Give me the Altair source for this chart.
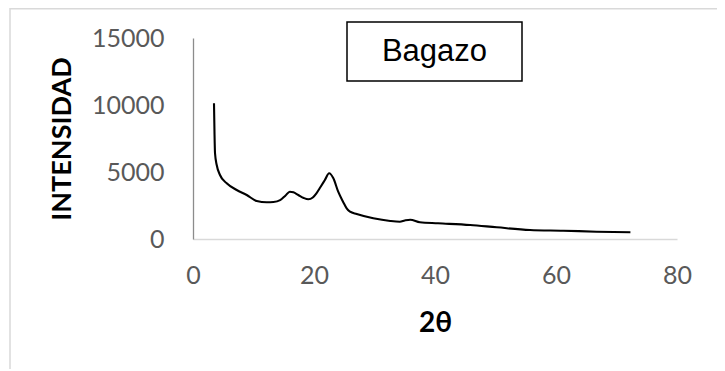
import altair as alt
import pandas as pd

two_theta = [3.47, 3.55, 3.64, 3.92, 4.46, 5.57, 7.22, 8.88, 10.53, 12.18, 13.3, 14.4,
             15.3, 16.0, 16.6, 17.4, 18.3, 19.06, 19.8, 20.4, 21.1, 21.8, 22.5, 23.2,
             24.0, 24.8, 25.4, 25.95, 27.06, 29.8, 32.6, 34.2, 35.0, 35.9, 37.5, 40.5,
             45.8, 50.2, 55.7, 61.2, 66.7, 72.3]
intensity = [10127, 8000, 6396, 5522, 4776, 4157, 3657, 3284, 2836, 2739, 2760, 2900,
             3250, 3530, 3480, 3284, 3060, 2963, 3100, 3411, 3900, 4403, 4903, 4530,
             3530, 2784, 2291, 2037, 1866, 1545, 1343, 1291, 1380, 1440, 1246, 1172,
             1045, 873, 672, 619, 545, 500]
x_ticks = [0, 20, 40, 60, 80]
y_ticks = [0, 5000, 10000, 15000]
series_name = "Bagazo"
y_title = "INTENSIDAD"

df = pd.DataFrame({"x": two_theta, "y": intensity})

line = alt.Chart(df).mark_line(color="black", strokeWidth=2.1, interpolate="monotone").encode(
    x=alt.X("x:Q", scale=alt.Scale(domain=[0, 80], nice=False),
            axis=alt.Axis(values=x_ticks, format="d", title="2θ", titleY=84,
                          titleBaseline="middle", titleFontSize=28, labelFlush=False,
                          labelPadding=24, domainColor="#d9d9d9", domainWidth=1.5)),
    y=alt.Y("y:Q", scale=alt.Scale(domain=[0, 15000], nice=False),
            axis=alt.Axis(values=y_ticks, format="d", title=None, labelPadding=29,
                          labelFlush=False,
                          domainColor="#8c8c8c", domainWidth=1.3)),
)

ytitle = alt.Chart(pd.DataFrame({"t": [y_title]})).mark_text(
    font="Lato, Open Sans", fontSize=27, fontWeight="bold", color="black",
    angle=270, baseline="middle", align="center"
).encode(text="t:N", x=alt.value(-130.5), y=alt.value(101))

border = alt.Chart(pd.DataFrame({"a": [0]})).mark_rect(
    fill=None, stroke="#d9d9d9", strokeWidth=1.5
).encode(x=alt.value(-183), x2=alt.value(540), y=alt.value(-29.3), y2=alt.value(420))

box = alt.Chart(pd.DataFrame({"a": [0]})).mark_rect(
    fill="white", stroke="black", strokeWidth=1.5
).encode(x=alt.value(154), x2=alt.value(329), y=alt.value(-16), y2=alt.value(43))

label = alt.Chart(pd.DataFrame({"t": [series_name]})).mark_text(
    font="Liberation Sans", fontSize=31, color="black", baseline="middle", align="center"
).encode(text="t:N", x=alt.value(241.5), y=alt.value(14))

chart = alt.layer(border, line, ytitle, box, label).properties(
    width=484, height=201,
    autosize=alt.AutoSizeParams(type="none"),
    padding={"left": 185, "top": 30, "right": 40, "bottom": 130},
    background="white",
).configure_view(stroke=None).configure_axis(
    grid=False, ticks=False, labelFont="Lato, Open Sans", labelFontSize=25,
    labelColor="#595959", titleFont="Lato, Open Sans",
    titleFontWeight="bold", titleColor="black"
)

chart.save("out.html", embed_options={"renderer": "svg", "actions": False})
